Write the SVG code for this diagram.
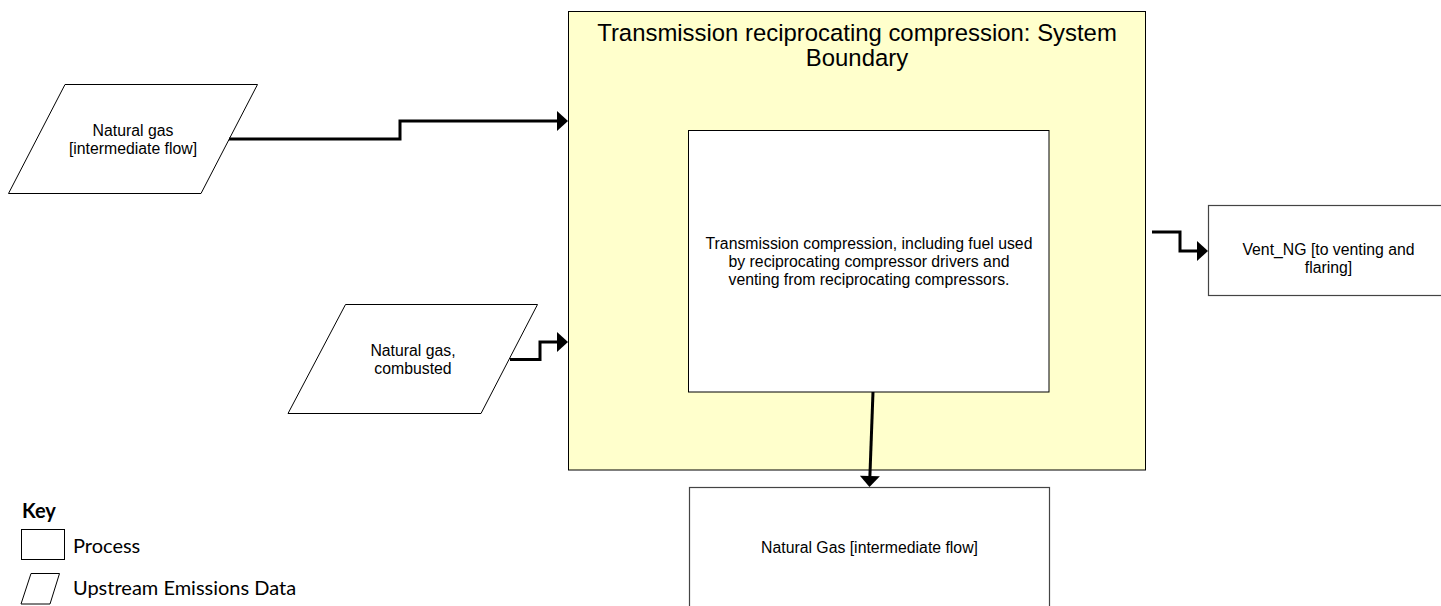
<svg xmlns="http://www.w3.org/2000/svg" width="1441" height="606" viewBox="0 0 1441 606">
<style>
.lbl{font-family:"Liberation Sans",Arial,sans-serif;font-size:15.8px;fill:#000;text-anchor:middle}
.title{font-family:"Liberation Sans",Arial,sans-serif;font-size:23.9px;fill:#000;text-anchor:middle}
.key{font-family:Lato,"Liberation Sans",sans-serif;font-size:20px;fill:#000}
.box{fill:#fff;stroke:#000;stroke-width:1}
.gbox{fill:#fff;stroke:#444;stroke-width:1.2}
.conn{fill:none;stroke:#000;stroke-width:3;stroke-linejoin:miter}
</style>
<defs>
<marker id="arrow" markerUnits="userSpaceOnUse" markerWidth="12" markerHeight="20" refX="0" refY="10" orient="auto" overflow="visible">
<path d="M0,0 L11,10 L0,20 Z" fill="#000"/>
</marker>
</defs>
<rect width="1441" height="606" fill="#fff"/>
<g id="boundary">
<rect x="568.5" y="11.5" width="577" height="458.5" fill="#FFFFCC" stroke="#000" stroke-width="1"/>
<text class="title" x="857" y="41">Transmission reciprocating compression: System</text>
<text class="title" x="857" y="66">Boundary</text>
</g>
<g id="process-main">
<rect class="box" x="688.5" y="130.5" width="360.5" height="261.5"/>
<text class="lbl" x="869" y="248.5">Transmission compression, including fuel used</text>
<text class="lbl" x="869" y="266.5">by reciprocating compressor drivers and</text>
<text class="lbl" x="869" y="284.5">venting from reciprocating compressors.</text>
</g>
<g id="input-ng">
<polygon class="box" points="65,84.5 257.5,84.5 201,193.5 8.5,193.5"/>
<text class="lbl" x="133" y="135.5">Natural gas</text>
<text class="lbl" x="133" y="153.5">[intermediate flow]</text>
</g>
<g id="input-combusted">
<polygon class="box" points="345.5,304.5 537.5,304.5 481,413.5 288,413.5"/>
<text class="lbl" x="413" y="355.5">Natural gas,</text>
<text class="lbl" x="413" y="373.5">combusted</text>
</g>
<g id="output-vent">
<rect class="gbox" x="1208.5" y="205.5" width="245" height="90"/>
<text class="lbl" x="1328.5" y="255">Vent_NG [to venting and</text>
<text class="lbl" x="1328.5" y="273">flaring]</text>
</g>
<g id="output-ng">
<rect class="gbox" x="689.5" y="487.5" width="360" height="125"/>
<text class="lbl" x="869.5" y="553">Natural Gas [intermediate flow]</text>
</g>
<g id="connectors">
<path class="conn" d="M229,139 H400 V121 H557" marker-end="url(#arrow)"/>
<path class="conn" d="M510,359.5 H540 V342 H557" marker-end="url(#arrow)"/>
<path class="conn" d="M1152,232 H1180 V251 H1197" marker-end="url(#arrow)"/>
<path class="conn" d="M873,392 L869.9,476" marker-end="url(#arrow)"/>
</g>
<g id="key">
<text class="key" x="22" y="518" font-weight="bold">Key</text>
<rect x="21.5" y="529.5" width="43" height="30" fill="#fff" stroke="#000" stroke-width="1"/>
<text class="key" x="73" y="553">Process</text>
<polygon points="31,573.5 59.5,573.5 50,604 21,604" fill="#fff" stroke="#000" stroke-width="1"/>
<text class="key" x="73" y="595">Upstream Emissions Data</text>
</g>
</svg>
